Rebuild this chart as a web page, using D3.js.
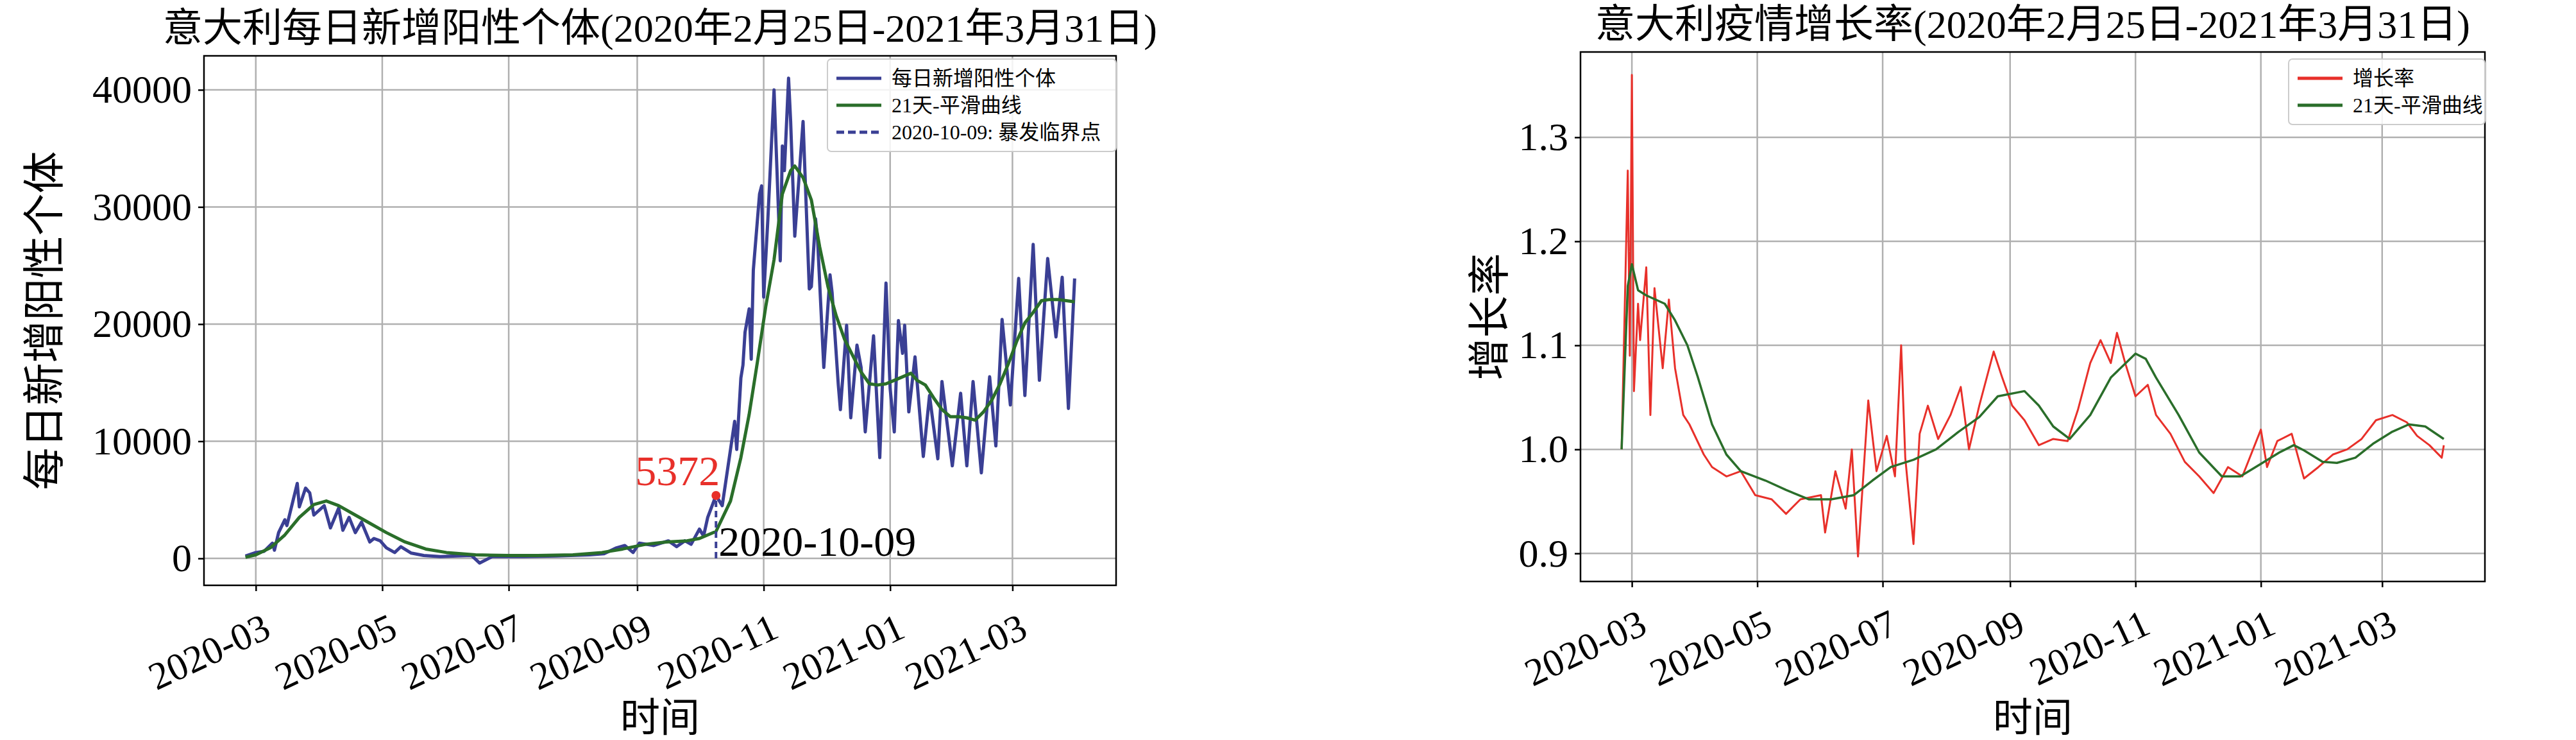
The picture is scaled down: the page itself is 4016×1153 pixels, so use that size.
<!DOCTYPE html>
<html>
<head>
<meta charset="utf-8">
<script src="https://cdn.jsdelivr.net/npm/d3@7"></script>
<style>
  body { margin: 0; background: #fff; }
  text { font-family: "Liberation Serif", "Noto Sans CJK SC", serif; }
</style>
</head>
<body>
<svg id="chart" width="4016" height="1153"></svg>
<script>
// daily new positives (key points)
const casesDates = ["2020-02-25","2020-03-01","2020-03-05","2020-03-09","2020-03-10","2020-03-12","2020-03-15","2020-03-16","2020-03-21","2020-03-22","2020-03-25","2020-03-27","2020-03-29","2020-04-03","2020-04-06","2020-04-10","2020-04-12","2020-04-15","2020-04-18","2020-04-21","2020-04-25","2020-04-27","2020-04-30","2020-05-03","2020-05-07","2020-05-10","2020-05-15","2020-05-21","2020-05-29","2020-06-06","2020-06-13","2020-06-17","2020-06-23","2020-07-08","2020-07-24","2020-08-09","2020-08-16","2020-08-22","2020-08-26","2020-08-30","2020-09-02","2020-09-09","2020-09-16","2020-09-20","2020-09-24","2020-09-27","2020-10-01","2020-10-03","2020-10-05","2020-10-09","2020-10-12","2020-10-18","2020-10-19","2020-10-21","2020-10-22","2020-10-23","2020-10-25","2020-10-26","2020-10-27","2020-10-30","2020-10-31","2020-11-01","2020-11-03","2020-11-06","2020-11-09","2020-11-10","2020-11-11","2020-11-13","2020-11-14","2020-11-16","2020-11-20","2020-11-23","2020-11-24","2020-11-26","2020-11-27","2020-11-30","2020-12-03","2020-12-04","2020-12-07","2020-12-08","2020-12-11","2020-12-13","2020-12-16","2020-12-18","2020-12-20","2020-12-24","2020-12-27","2020-12-30","2021-01-01","2021-01-03","2021-01-05","2021-01-07","2021-01-08","2021-01-10","2021-01-13","2021-01-17","2021-01-20","2021-01-24","2021-01-26","2021-01-31","2021-02-04","2021-02-07","2021-02-10","2021-02-14","2021-02-18","2021-02-21","2021-02-24","2021-02-28","2021-03-04","2021-03-07","2021-03-11","2021-03-14","2021-03-18","2021-03-22","2021-03-25","2021-03-28","2021-03-31"];
const casesValues = [200,500,600,1300,700,2200,3300,2800,6400,4400,6000,5600,3700,4500,2600,4300,2400,3500,2200,3100,1400,1700,1500,900,500,1000,450,250,150,200,250,-400,150,150,200,300,400,900,1100,500,1300,1100,1500,1000,1500,1200,2500,1900,3500,5372,4500,11700,9300,15400,16500,19300,21300,17000,24600,31100,31800,22300,28900,40000,25400,35200,33100,41000,37300,27500,37300,23000,23200,29000,27200,16300,24200,22700,14800,12700,19900,12000,18200,16300,10800,19000,8600,23500,14500,10800,20300,17500,19900,12500,17200,8700,13900,8500,15100,7900,14100,7900,15100,7300,15500,9600,20400,13100,23900,13900,26800,15200,25600,18900,24000,12800,23900];

const smoothDates = ["2020-02-25","2020-03-01","2020-03-08","2020-03-15","2020-03-22","2020-03-29","2020-04-04","2020-04-10","2020-04-18","2020-04-25","2020-05-03","2020-05-12","2020-05-22","2020-06-01","2020-06-15","2020-07-01","2020-07-15","2020-08-01","2020-08-15","2020-08-25","2020-09-05","2020-09-15","2020-09-25","2020-10-01","2020-10-09","2020-10-16","2020-10-21","2020-10-25","2020-10-29","2020-11-02","2020-11-06","2020-11-10","2020-11-14","2020-11-16","2020-11-20","2020-11-24","2020-11-28","2020-12-02","2020-12-06","2020-12-10","2020-12-14","2020-12-18","2020-12-22","2020-12-26","2020-12-30","2021-01-03","2021-01-07","2021-01-11","2021-01-14","2021-01-18","2021-01-22","2021-01-26","2021-01-30","2021-02-03","2021-02-07","2021-02-11","2021-02-15","2021-02-19","2021-02-23","2021-02-27","2021-03-03","2021-03-07","2021-03-11","2021-03-15","2021-03-19","2021-03-23","2021-03-27","2021-03-31"];
const smoothValues = [100,300,900,2000,3500,4600,4900,4500,3700,3000,2200,1400,800,500,300,250,250,300,500,800,1200,1400,1500,1700,2300,4900,8600,12300,16800,21500,25500,31100,33100,33500,32500,30600,26600,23200,20700,18700,17300,15900,14900,14800,14900,15200,15500,15800,15200,14800,13700,12700,12100,12100,12000,11800,12500,13500,14900,16600,18500,20100,21000,22000,22100,22100,22000,21900];

// growth rate
const rateDates = ["2020-02-25","2020-02-28","2020-02-29","2020-03-01","2020-03-02","2020-03-04","2020-03-05","2020-03-08","2020-03-10","2020-03-12","2020-03-16","2020-03-19","2020-03-22","2020-03-26","2020-03-29","2020-04-05","2020-04-09","2020-04-16","2020-04-23","2020-04-30","2020-05-08","2020-05-15","2020-05-22","2020-06-01","2020-06-03","2020-06-08","2020-06-13","2020-06-16","2020-06-19","2020-06-24","2020-06-28","2020-07-03","2020-07-07","2020-07-10","2020-07-12","2020-07-16","2020-07-19","2020-07-23","2020-07-28","2020-08-03","2020-08-08","2020-08-12","2020-08-17","2020-08-24","2020-08-28","2020-09-02","2020-09-08","2020-09-15","2020-09-22","2020-09-29","2020-10-04","2020-10-10","2020-10-15","2020-10-20","2020-10-23","2020-10-27","2020-11-01","2020-11-07","2020-11-11","2020-11-18","2020-11-25","2020-12-02","2020-12-09","2020-12-16","2020-12-23","2021-01-01","2021-01-04","2021-01-09","2021-01-16","2021-01-22","2021-01-29","2021-02-05","2021-02-12","2021-02-19","2021-02-26","2021-03-06","2021-03-13","2021-03-18","2021-03-24","2021-03-30","2021-03-31"];
const rateValues = [1.0,1.268,1.09,1.36,1.056,1.14,1.105,1.175,1.033,1.155,1.078,1.144,1.078,1.033,1.024,0.995,0.983,0.974,0.979,0.956,0.952,0.938,0.952,0.956,0.92,0.979,0.943,1.0,0.897,1.047,0.979,1.013,0.974,1.10,0.992,0.909,1.015,1.042,1.01,1.033,1.06,1.0,1.042,1.094,1.07,1.042,1.028,1.004,1.01,1.008,1.038,1.083,1.105,1.083,1.112,1.083,1.051,1.062,1.033,1.015,0.988,0.974,0.958,0.983,0.974,1.019,0.983,1.008,1.015,0.972,0.983,0.995,1.0,1.01,1.028,1.033,1.026,1.013,1.004,0.992,1.004];

const rateSmoothDates = ["2020-02-25","2020-02-28","2020-03-01","2020-03-04","2020-03-08","2020-03-17","2020-03-22","2020-03-28","2020-04-02","2020-04-09","2020-04-16","2020-04-23","2020-05-05","2020-05-15","2020-05-26","2020-06-06","2020-06-17","2020-06-26","2020-07-05","2020-07-16","2020-07-27","2020-08-07","2020-08-17","2020-08-26","2020-09-08","2020-09-15","2020-09-22","2020-09-30","2020-10-10","2020-10-20","2020-11-01","2020-11-06","2020-11-11","2020-11-22","2020-12-02","2020-12-13","2020-12-22","2021-01-01","2021-01-10","2021-01-17","2021-01-22","2021-01-31","2021-02-07","2021-02-16","2021-02-25","2021-03-06","2021-03-14","2021-03-22","2021-03-31"];
const rateSmoothValues = [1.0,1.157,1.178,1.153,1.148,1.14,1.124,1.10,1.07,1.024,0.995,0.979,0.97,0.961,0.952,0.952,0.956,0.97,0.983,0.99,1.0,1.017,1.031,1.051,1.056,1.042,1.022,1.01,1.033,1.069,1.092,1.087,1.069,1.033,0.997,0.974,0.974,0.986,0.997,1.004,0.999,0.988,0.987,0.992,1.006,1.017,1.024,1.022,1.01];

const xTicks = ["2020-03","2020-05","2020-07","2020-09","2020-11","2021-01","2021-03"];
const caseTicks = [0,10000,20000,30000,40000];
const rateTicks = [0.9,1.0,1.1,1.2,1.3];
const outbreakDate = "2020-10-09", outbreakValue = 5372;

const parse = d3.timeParse("%Y-%m-%d");
const parseM = d3.timeParse("%Y-%m");
const svg = d3.select("#chart");

function drawPanel(opt) {
  const {left, right, top, bottom} = opt;
  const x = d3.scaleTime()
    .domain([parse("2020-02-05"), parse("2021-04-20")])
    .range([left, right]);
  const y = d3.scaleLinear().domain(opt.yDomain).range([bottom, top]);
  const g = svg.append("g");

  // grid
  g.selectAll(".gx").data(xTicks).enter().append("line")
    .attr("x1", d => x(parseM(d))).attr("x2", d => x(parseM(d)))
    .attr("y1", top).attr("y2", bottom)
    .attr("stroke", "#b0b0b0").attr("stroke-width", 2.5);
  g.selectAll(".gy").data(opt.yTicks).enter().append("line")
    .attr("x1", left).attr("x2", right)
    .attr("y1", d => y(d)).attr("y2", d => y(d))
    .attr("stroke", "#b0b0b0").attr("stroke-width", 2.5);

  // axes
  const xa = g.append("g").attr("transform", `translate(0,${bottom})`)
    .call(d3.axisBottom(x).tickValues(xTicks.map(parseM)).tickFormat(d3.timeFormat("%Y-%m")).tickSize(9).tickPadding(10));
  xa.selectAll("text").attr("font-size", 60).attr("fill", "#000")
    .attr("text-anchor", "end").attr("dy", "0.7em")
    .attr("transform", "rotate(-25) translate(-10,22)");
  const ya = g.append("g").attr("transform", `translate(${left},0)`)
    .call(d3.axisLeft(y).tickValues(opt.yTicks).tickFormat(opt.yFmt).tickSize(9).tickPadding(10));
  ya.selectAll("text").attr("font-size", 62).attr("fill", "#000");
  g.selectAll(".domain").remove();
  g.selectAll(".tick line").attr("stroke", "#000").attr("stroke-width", 2.5);
  g.append("rect").attr("x", left).attr("y", top).attr("width", right - left).attr("height", bottom - top)
    .attr("fill", "none").attr("stroke", "#000").attr("stroke-width", 2.5);

  const line = d3.line().x(d => x(d[0])).y(d => y(d[1]));
  opt.series.forEach(s => {
    g.append("path").datum(s.dates.map((d, i) => [parse(d), s.values[i]]))
      .attr("d", line).attr("fill", "none").attr("stroke", s.color)
      .attr("stroke-width", s.width).attr("stroke-linejoin", "round");
  });

  // titles
  g.append("text").attr("x", (left + right) / 2).attr("y", top - 22)
    .attr("text-anchor", "middle").attr("font-size", 62).text(opt.title);
  g.append("text").attr("x", (left + right) / 2).attr("y", 1140)
    .attr("text-anchor", "middle").attr("font-size", 62).text("时间");
  g.append("text").attr("transform", `translate(${opt.yLabelX},${(top + bottom) / 2}) rotate(-90)`)
    .attr("text-anchor", "middle").attr("font-size", 66).text(opt.yLabel);

  // legend
  const lg = g.append("g").attr("transform", `translate(${opt.legend[0]},${opt.legend[1]})`);
  lg.append("rect").attr("width", opt.legend[2]).attr("height", opt.legendItems.length * 42 + 18)
    .attr("rx", 6).attr("fill", "#fff").attr("fill-opacity", 0.85).attr("stroke", "#ccc").attr("stroke-width", 2);
  opt.legendItems.forEach((it, i) => {
    const yy = 30 + i * 42;
    lg.append("line").attr("x1", 14).attr("x2", 84).attr("y1", yy).attr("y2", yy)
      .attr("stroke", it.color).attr("stroke-width", 5).attr("stroke-dasharray", it.dash || null);
    lg.append("text").attr("x", 100).attr("y", yy).attr("dy", "0.35em")
      .attr("font-size", 32).text(it.label);
  });
  return {x, y, g};
}

const p1 = drawPanel({
  left: 318, right: 1740, top: 87, bottom: 912,
  yDomain: [-2300, 42900], yTicks: caseTicks, yFmt: d3.format("d"),
  title: "意大利每日新增阳性个体(2020年2月25日-2021年3月31日)",
  yLabel: "每日新增阳性个体", yLabelX: 92,
  series: [
    {dates: casesDates, values: casesValues, color: "#3a3f94", width: 5},
    {dates: smoothDates, values: smoothValues, color: "#2a6e2a", width: 5}
  ],
  legend: [1290, 92, 450],
  legendItems: [
    {label: "每日新增阳性个体", color: "#3a3f94"},
    {label: "21天-平滑曲线", color: "#2a6e2a"},
    {label: "2020-10-09: 暴发临界点", color: "#3a3f94", dash: "12,6"}
  ]
});
// outbreak marker
const ox = p1.x(parse(outbreakDate));
p1.g.append("line").attr("x1", ox).attr("x2", ox).attr("y1", p1.y(0)).attr("y2", p1.y(outbreakValue))
  .attr("stroke", "#3a3f94").attr("stroke-width", 4).attr("stroke-dasharray", "10,6");
p1.g.append("circle").attr("cx", ox).attr("cy", p1.y(outbreakValue)).attr("r", 7).attr("fill", "#e8302a");
p1.g.append("text").attr("x", ox + 6).attr("y", p1.y(outbreakValue) - 16).attr("text-anchor", "end")
  .attr("font-size", 66).attr("fill", "#e8302a").text(outbreakValue);
p1.g.append("text").attr("x", ox + 4).attr("y", p1.y(0) - 4)
  .attr("font-size", 66).attr("fill", "#000").text(outbreakDate);

drawPanel({
  left: 2464, right: 3874, top: 81, bottom: 906,
  yDomain: [0.873, 1.382], yTicks: rateTicks, yFmt: d3.format(".1f"),
  title: "意大利疫情增长率(2020年2月25日-2021年3月31日)",
  yLabel: "增长率", yLabelX: 2345,
  series: [
    {dates: rateDates, values: rateValues, color: "#e8302a", width: 3},
    {dates: rateSmoothDates, values: rateSmoothValues, color: "#2a6e2a", width: 3.5}
  ],
  legend: [3568, 92, 306],
  legendItems: [
    {label: "增长率", color: "#e8302a"},
    {label: "21天-平滑曲线", color: "#2a6e2a"}
  ]
});
</script>
</body>
</html>
